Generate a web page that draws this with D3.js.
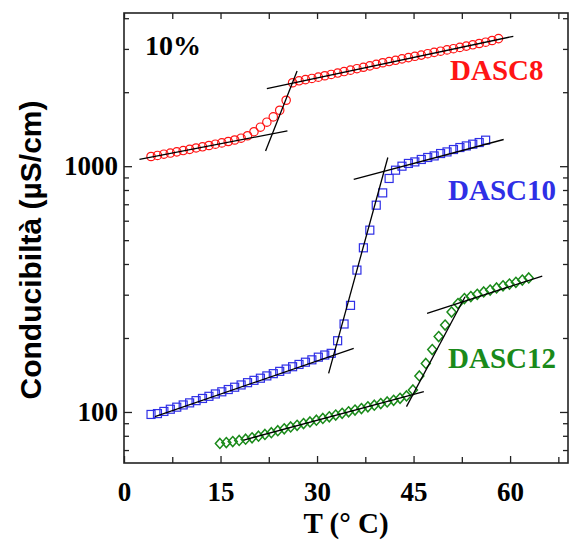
<!DOCTYPE html>
<html>
<head>
<meta charset="utf-8">
<script src="https://cdn.jsdelivr.net/npm/d3@7"></script>
<style>
  body { margin: 0; background: #fff; }
  svg { display: block; }
</style>
</head>
<body>
<script>
// Conductivity of DASC surfactant solutions (10%) versus temperature
const tempDASC8 = [4.2,5.2,6.2,7.2,8.2,9.2,10.2,11.2,12.2,13.2,14.2,15.2,16.2,17.2,18.2,19.2,20.2,21.2,22.2,23.2,24.2,25.2,26.2,27.2,28.2,29.2,30.2,31.2,32.2,33.2,34.2,35.2,36.2,37.2,38.2,39.2,40.2,41.2,42.2,43.2,44.2,45.2,46.2,47.2,48.2,49.2,50.2,51.2,52.2,53.2,54.2,55.2,56.2,57.2,58.2];
const condDASC8 = [1095,1106,1119,1131,1144,1158,1171,1186,1199,1214,1229,1244,1260,1278,1300,1330,1381,1441,1510,1587,1689,1855,2185,2225,2249,2275,2303,2333,2362,2393,2427,2459,2493,2526,2559,2598,2635,2665,2697,2733,2766,2800,2831,2869,2904,2937,2973,3006,3043,3080,3118,3156,3195,3246,3304];

const tempDASC10 = [4.2,5.2,6.2,7.2,8.2,9.2,10.2,11.2,12.2,13.2,14.2,15.2,16.2,17.2,18.2,19.2,20.2,21.2,22.2,23.2,24.2,25.2,26.2,27.2,28.2,29.2,30.2,31.2,32.2,33.2,34.2,35.2,36.2,37.2,38.2,39.2,40.2,41.2,42.2,43.2,44.2,45.2,46.2,47.2,48.2,49.2,50.2,51.2,52.2,53.2,54.2,55.2,56.2];
const condDASC10 = [97.7,98.5,100.5,102.6,104.6,106.8,108.9,111.2,113.5,115.8,118.4,120.8,123.4,126.1,128.8,131.6,134.5,137.2,140.2,143.2,146.3,149.5,152.8,156.1,159.4,163.0,167.1,170.5,173.2,194.9,228.0,271.5,377.8,465.5,549.3,694.0,778.7,891.3,963.2,1000,1026,1041,1065,1085,1101,1126,1143,1169,1191,1209,1229,1248,1276];

const tempDASC12 = [14.9,15.9,16.9,17.9,18.9,19.9,20.9,21.9,22.9,23.9,24.9,25.9,26.9,27.9,28.9,29.9,30.9,31.9,32.9,33.9,34.9,35.9,36.9,37.9,38.9,39.9,40.9,41.9,42.9,43.9,44.9,45.9,46.9,47.9,48.9,49.9,50.9,51.9,52.9,53.9,54.9,55.9,56.9,57.9,58.9,59.9,60.9,61.9,62.9];
const condDASC12 = [74.5,75.1,75.8,76.6,77.5,78.5,79.7,81.0,82.4,83.9,85.4,86.9,88.3,89.7,91.1,92.6,94.1,95.6,97.1,98.7,100.2,101.8,103.3,105.0,106.6,108.2,109.8,111.6,113.6,116.2,122.9,140.1,157.5,179.5,202.7,225.8,255.0,276.1,289.3,294.8,301.0,307.8,313.3,319.8,326.2,331.4,337.0,344.0,351.2];

// Linear fits (in log scale) before, across and after each break: [T0, C0, T1, C1]
const fitsDASC8  = [[2.4,1065,25.4,1392],[22.0,1154,26.9,2440],[22.2,2070,60.5,3377]];
const fitsDASC10 = [[4.8,95.7,35.7,181.5],[31.8,143.6,41.0,1085],[35.7,883,59.0,1284]];
const fitsDASC12 = [[18.6,76.9,46.6,120.9],[43.9,105.1,53.0,294.2],[47.1,251.9,65.0,357.1]];

const seriesNames = ["DASC8","DASC10","DASC12"];
const seriesColors = ["#ff1414","#2f2fe6","#1a8a1a"];

const xTickLabels = [0,15,30,45,60];
const xMinorTicks = [7.5,22.5,37.5,52.5,67.5];
const yTickLabels = [100,1000];
const yMinorTicks = [70,80,90,200,300,400,500,600,700,800,900,2000,3000,4000];

const W = 570, H = 541;
const margin = {top: 13, right: 2, bottom: 78, left: 124};

const x = d3.scaleLinear().domain([0, 69]).range([margin.left, W - margin.right]);
const y = d3.scaleLog().domain([62, 4200]).range([H - margin.bottom, margin.top]);

const svg = d3.select("body").append("svg").attr("width", W).attr("height", H);

const serif = "'Liberation Serif','Times New Roman',serif";
const sans = "'Liberation Sans',Arial,sans-serif";

// ---- axes (ticks point inward on all four sides)
function styleAxis(g) {
  g.select(".domain").remove();
  g.selectAll(".tick line").attr("stroke", "#222").attr("stroke-width", 1.3);
  g.selectAll("text").attr("fill", "#000").attr("font-family", serif)
    .attr("font-weight", "bold").attr("font-size", 27);
}
const yBottom = H - margin.bottom, yTop = margin.top, xLeft = margin.left, xRight = W - margin.right;

svg.append("g").attr("transform", `translate(0,${yBottom})`)
  .call(d3.axisBottom(x).tickValues(xTickLabels).tickSize(-7).tickPadding(19).tickFormat(d3.format("d")))
  .call(styleAxis);
svg.append("g").attr("transform", `translate(0,${yBottom})`)
  .call(d3.axisBottom(x).tickValues(xMinorTicks).tickSize(-6).tickFormat(""))
  .call(styleAxis);
svg.append("g").attr("transform", `translate(0,${yTop})`)
  .call(d3.axisTop(x).tickValues(xTickLabels.concat(xMinorTicks)).tickSize(-6).tickFormat(""))
  .call(styleAxis);

svg.append("g").attr("transform", `translate(${xLeft},0)`)
  .call(d3.axisLeft(y).tickValues(yTickLabels).tickSize(-8).tickPadding(6).tickFormat(d3.format("d")))
  .call(styleAxis);
svg.append("g").attr("transform", `translate(${xLeft},0)`)
  .call(d3.axisLeft(y).tickValues(yMinorTicks).tickSize(-5).tickFormat(""))
  .call(styleAxis);
svg.append("g").attr("transform", `translate(${xRight},0)`)
  .call(d3.axisRight(y).tickValues(yTickLabels).tickSize(-8).tickFormat(""))
  .call(styleAxis);
svg.append("g").attr("transform", `translate(${xRight},0)`)
  .call(d3.axisRight(y).tickValues(yMinorTicks).tickSize(-5).tickFormat(""))
  .call(styleAxis);

// plot frame
svg.append("rect")
  .attr("x", xLeft).attr("y", yTop)
  .attr("width", xRight - xLeft).attr("height", yBottom - yTop)
  .attr("fill", "none").attr("stroke", "#222").attr("stroke-width", 1.6);

// ---- data markers
const plot = svg.append("g");

const pts = (ts, cs) => ts.map((t, i) => ({t, c: cs[i]}));

plot.append("g").selectAll("circle")
  .data(pts(tempDASC8, condDASC8)).join("circle")
  .attr("cx", d => x(d.t)).attr("cy", d => y(d.c)).attr("r", 4.2)
  .attr("fill", "none").attr("stroke", seriesColors[0]).attr("stroke-width", 1.2);

plot.append("g").selectAll("rect")
  .data(pts(tempDASC10, condDASC10)).join("rect")
  .attr("x", d => x(d.t) - 4).attr("y", d => y(d.c) - 4)
  .attr("width", 8).attr("height", 8)
  .attr("fill", "none").attr("stroke", seriesColors[1]).attr("stroke-width", 1.2);

plot.append("g").selectAll("path")
  .data(pts(tempDASC12, condDASC12)).join("path")
  .attr("transform", d => `translate(${x(d.t)},${y(d.c)})`)
  .attr("d", "M0,-5L4.5,0L0,5L-4.5,0Z")
  .attr("fill", "none").attr("stroke", seriesColors[2]).attr("stroke-width", 1.5);

// ---- fit lines
const fits = [].concat(fitsDASC8, fitsDASC10, fitsDASC12);
plot.append("g").selectAll("line")
  .data(fits).join("line")
  .attr("x1", d => x(d[0])).attr("y1", d => y(d[1]))
  .attr("x2", d => x(d[2])).attr("y2", d => y(d[3]))
  .attr("stroke", "#000").attr("stroke-width", 1.3);

// ---- text
svg.append("text").attr("x", 145).attr("y", 55)
  .attr("font-family", serif).attr("font-weight", "bold").attr("font-size", 28)
  .text("10%");

const labelPos = [[450, 80], [448, 200], [448, 368]];
seriesNames.forEach((name, i) => {
  svg.append("text").attr("x", labelPos[i][0]).attr("y", labelPos[i][1])
    .attr("font-family", serif).attr("font-weight", "bold").attr("font-size", 29)
    .attr("fill", seriesColors[i]).text(name);
});

svg.append("text")
  .attr("transform", "translate(41,250) rotate(-90)")
  .attr("text-anchor", "middle")
  .attr("font-family", sans).attr("font-weight", "bold").attr("font-size", 30)
  .text("Conducibiltà (µS/cm)");

svg.append("text")
  .attr("x", 346).attr("y", 533).attr("text-anchor", "middle")
  .attr("font-family", serif).attr("font-weight", "bold").attr("font-size", 29)
  .text("T (° C)");
</script>
</body>
</html>
